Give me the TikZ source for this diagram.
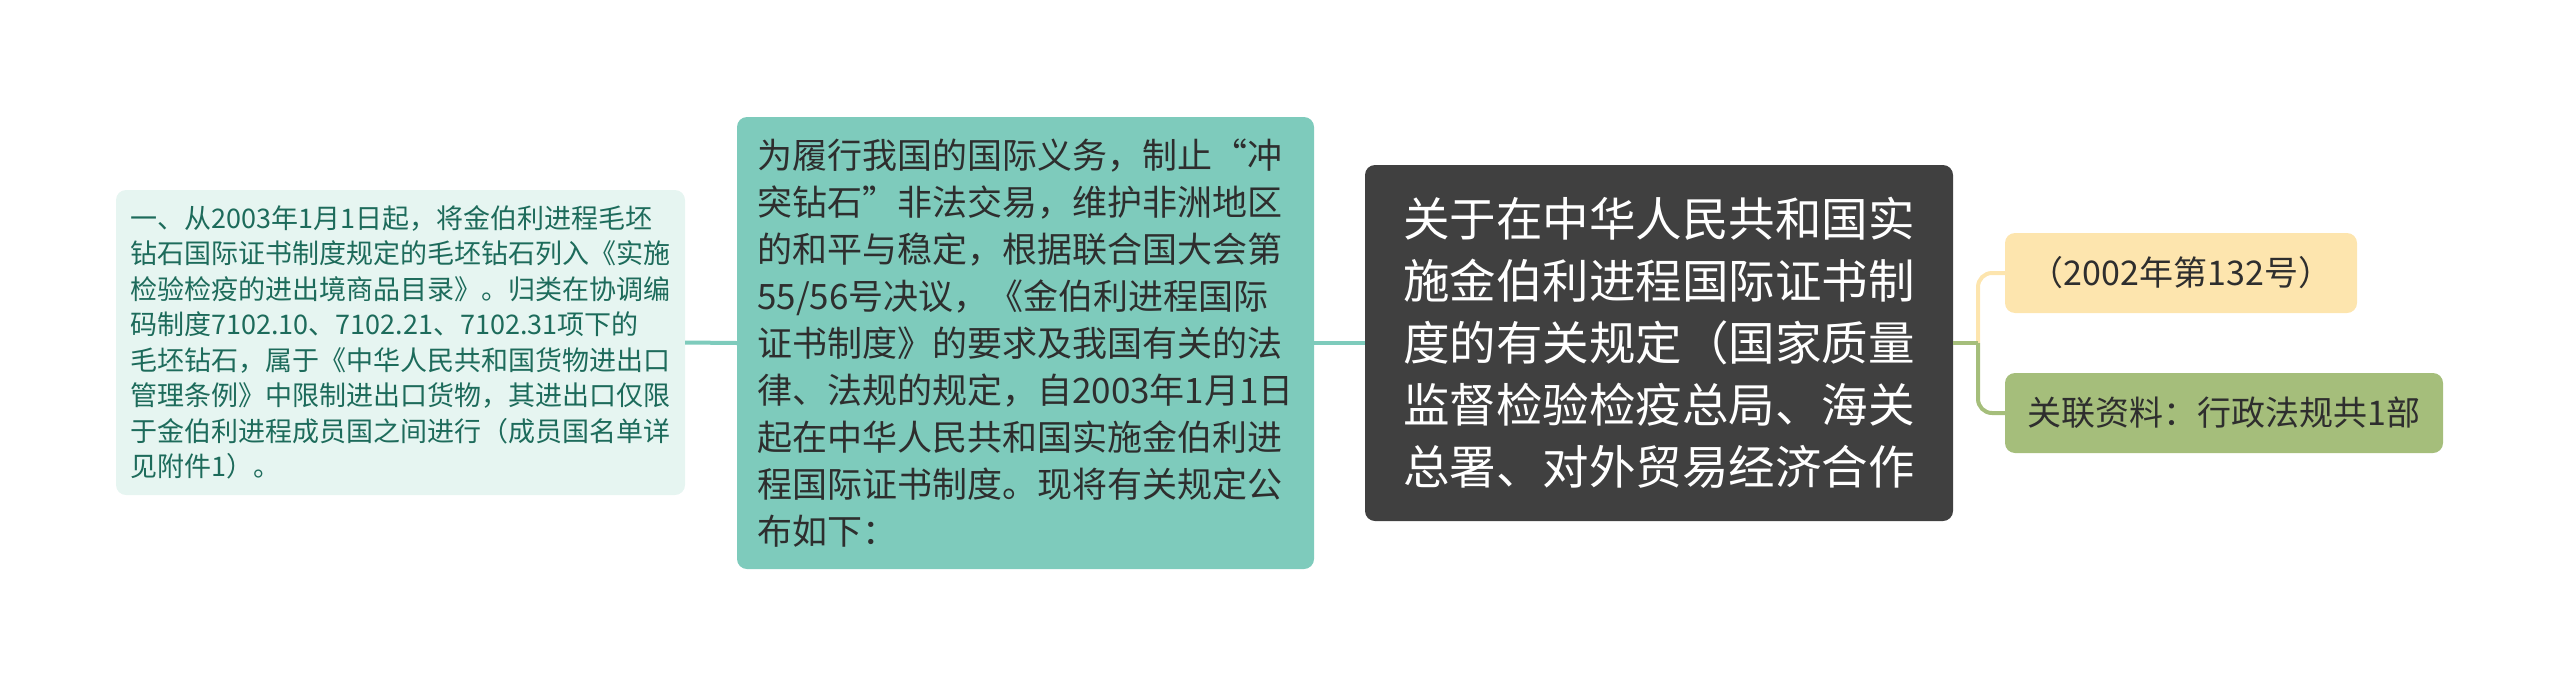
\documentclass[tikz,border=0pt]{standalone}
\usepackage{fontspec}
\newfontfamily\cjk{Noto Sans CJK SC}
\definecolor{teal1}{HTML}{7ECBBC}
\definecolor{mint}{HTML}{E6F5F1}
\definecolor{minttext}{HTML}{1D6B5B}
\definecolor{darkbox}{HTML}{404040}
\definecolor{yelfill}{HTML}{FDE5AE}
\definecolor{grnfill}{HTML}{A5BE7B}
\definecolor{txt}{HTML}{2E2E2E}
\tikzset{
  boxbase/.style={rounded corners=10pt, inner sep=0pt, align=left},
  leftstyle/.style={boxbase, fill=mint, text=minttext, font=\cjk\fontsize{27}{35.5}\selectfont},
  midstyle/.style={boxbase, fill=teal1, text=txt, font=\cjk\fontsize{35}{47}\selectfont},
  rootstyle/.style={boxbase, fill=darkbox, text=white, font=\cjk\fontsize{46.5}{62}\selectfont},
  yelstyle/.style={boxbase, fill=yelfill, text=txt, font=\cjk\fontsize{34}{40}\selectfont},
  grnstyle/.style={boxbase, fill=grnfill, text=txt, font=\cjk\fontsize{34}{40}\selectfont},
  tealline/.style={draw=teal1, line width=4pt},
  yelline/.style={draw=yelfill, line width=4pt, rounded corners=14pt},
  grnline/.style={draw=grnfill, line width=4pt, rounded corners=14pt},
}
\begin{document}
\begin{tikzpicture}[x=1pt, y=-1pt]
\useasboundingbox (0,0) rectangle (2560,686);
\node[leftstyle, minimum width=569pt, minimum height=305pt] (leftbox) at (400.5,342.5) {一、从2003年1月1日起，将金伯利进程毛坯\\钻石国际证书制度规定的毛坯钻石列入《实施\\检验检疫的进出境商品目录》。归类在协调编\\码制度7102.10、7102.21、7102.31项下的\\毛坯钻石，属于《中华人民共和国货物进出口\\管理条例》中限制进出口货物，其进出口仅限\\于金伯利进程成员国之间进行（成员国名单详\\见附件1）。};
\node[midstyle, minimum width=577pt, minimum height=452pt] (midbox) at (1025.5,343) {为履行我国的国际义务，制止“冲\\突钻石”非法交易，维护非洲地区\\的和平与稳定，根据联合国大会第\\55/56号决议，《金伯利进程国际\\证书制度》的要求及我国有关的法\\律、法规的规定，自2003年1月1日\\起在中华人民共和国实施金伯利进\\程国际证书制度。现将有关规定公\\布如下：};
\node[rootstyle, minimum width=588pt, minimum height=356pt] (root) at (1659,343) {关于在中华人民共和国实\\施金伯利进程国际证书制\\度的有关规定（国家质量\\监督检验检疫总局、海关\\总署、对外贸易经济合作};
\node[yelstyle, minimum width=352pt, minimum height=80pt] (yelbox) at (2181,273) {（2002年第132号）};
\node[grnstyle, minimum width=438pt, minimum height=80pt] (grnbox) at (2224,413) {关联资料：行政法规共1部};
\coordinate (junc) at (1978,343);
\draw[tealline] (leftbox.east) -- (midbox.west);
\draw[tealline] (midbox.east) -- (root.west);
\draw[yelline] (junc) |- (yelbox.west);
\draw[grnline] (junc) |- (grnbox.west);
\draw[draw=grnfill, line width=4pt] (root.east) -- (junc);
\end{tikzpicture}
\end{document}
